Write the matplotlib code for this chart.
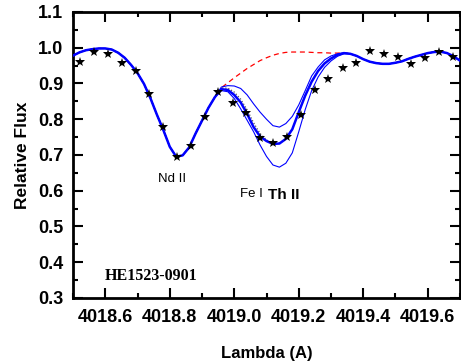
import numpy as np
import matplotlib
matplotlib.use("Agg")
import matplotlib.pyplot as plt
from matplotlib.ticker import MultipleLocator

# Observed spectrum (stars)
obs_wl = [4018.522, 4018.566, 4018.608, 4018.652, 4018.694, 4018.736, 4018.779,
          4018.823, 4018.865, 4018.908, 4018.950, 4018.995, 4019.035, 4019.079,
          4019.121, 4019.165, 4019.206, 4019.250, 4019.292, 4019.336, 4019.379,
          4019.422, 4019.463, 4019.507, 4019.549, 4019.592, 4019.635, 4019.677]
obs_flux = [0.961, 0.989, 0.982, 0.957, 0.936, 0.871, 0.778,
            0.695, 0.726, 0.805, 0.876, 0.846, 0.817, 0.748,
            0.734, 0.750, 0.811, 0.882, 0.913, 0.943, 0.957,
            0.991, 0.983, 0.975, 0.955, 0.970, 0.987, 0.975]

# Synthetic spectra: shared left part
left_wl = [4018.50, 4018.52, 4018.54, 4018.56, 4018.58, 4018.60, 4018.62, 4018.64,
           4018.66, 4018.68, 4018.70, 4018.72, 4018.74, 4018.76, 4018.78, 4018.80,
           4018.82, 4018.84, 4018.86, 4018.88, 4018.90, 4018.92, 4018.94]
left_flux = [0.978, 0.987, 0.993, 0.996, 0.998, 0.998, 0.995, 0.986,
             0.972, 0.952, 0.929, 0.899, 0.859, 0.813, 0.770, 0.723,
             0.695, 0.699, 0.721, 0.760, 0.796, 0.832, 0.862]

# Th II region
th_wl = [4018.96, 4018.98, 4019.00, 4019.02, 4019.04, 4019.06, 4019.08, 4019.10,
         4019.12, 4019.14, 4019.16, 4019.18, 4019.20, 4019.22, 4019.24, 4019.26,
         4019.28, 4019.30, 4019.32, 4019.34]
th_best = [0.884, 0.882, 0.868, 0.847, 0.815, 0.778, 0.752, 0.739,
           0.731, 0.732, 0.745, 0.772, 0.820, 0.866, 0.905, 0.935,
           0.956, 0.970, 0.980, 0.985]
th_dotted = [0.887, 0.887, 0.876, 0.856, 0.826, 0.790, 0.760, 0.742,
             0.733, 0.733, 0.745, 0.772, 0.820, 0.866, 0.905, 0.935,
             0.956, 0.970, 0.980, 0.985]
th_upper = [0.890, 0.894, 0.893, 0.886, 0.868, 0.843, 0.820, 0.800,
            0.782, 0.778, 0.788, 0.808, 0.840, 0.880, 0.921, 0.946,
            0.966, 0.977, 0.983, 0.986]
th_lower = [0.880, 0.877, 0.858, 0.829, 0.797, 0.765, 0.728, 0.696,
            0.672, 0.666, 0.677, 0.706, 0.765, 0.827, 0.880, 0.918,
            0.945, 0.963, 0.976, 0.983]
no_th = [0.888, 0.902, 0.916, 0.929, 0.942, 0.953, 0.964, 0.972,
         0.979, 0.984, 0.987, 0.988, 0.988, 0.988, 0.987, 0.986,
         0.986, 0.985, 0.985, 0.986]

# Shared right part
right_wl = [4019.36, 4019.38, 4019.40, 4019.42, 4019.44, 4019.46, 4019.48, 4019.50,
            4019.52, 4019.54, 4019.56, 4019.58, 4019.60, 4019.62, 4019.64, 4019.66,
            4019.68, 4019.70]
right_flux = [0.983, 0.977, 0.968, 0.961, 0.957, 0.955, 0.955, 0.958,
              0.962, 0.969, 0.975, 0.980, 0.985, 0.988, 0.989, 0.985,
              0.976, 0.964]

x_ticks = [4018.6, 4018.8, 4019.0, 4019.2, 4019.4, 4019.6]
y_ticks = [0.3, 0.4, 0.5, 0.6, 0.7, 0.8, 0.9, 1.0, 1.1]

plt.rcParams['font.family'] = ['Liberation Sans', 'DejaVu Sans']

fig = plt.figure(figsize=(4.61, 3.62), dpi=100)
ax = fig.add_axes([0.1584, 0.1768, 0.8394, 0.7901])

wl_all = left_wl + th_wl + right_wl
def full(mid):
    return left_flux + list(mid) + right_flux

ax.plot(wl_all, full(no_th), color='#ff0000', lw=0.9, ls=(0, (4, 3)), zorder=2)
ax.plot(wl_all, full(th_upper), color='#0000ff', lw=0.8, zorder=3)
ax.plot(wl_all, full(th_lower), color='#0000ff', lw=0.8, zorder=3)
ax.plot(wl_all, full(th_dotted), color='#555555', lw=0.9, ls=(0, (1, 1.5)), zorder=3)
ax.plot(wl_all, full(th_best), color='#0000ff', lw=1.8, zorder=4)
ax.plot(obs_wl, obs_flux, ls='none', marker='*', color='black', ms=7, mew=0, zorder=5)

ax.set_xlim(4018.5, 4019.7)
ax.set_ylim(0.3, 1.1)
ax.set_xticks(x_ticks)
ax.set_yticks(y_ticks)
ax.set_xticklabels([f"{v:.1f}" for v in x_ticks])
ax.set_yticklabels([f"{v:.1f}" for v in y_ticks])
ax.xaxis.set_minor_locator(MultipleLocator(0.1))
ax.yaxis.set_minor_locator(MultipleLocator(0.05))
ax.tick_params(which='both', direction='in', top=True, right=True, width=1.5)
ax.tick_params(which='major', length=7, labelsize=13)
ax.tick_params(axis='y', which='major', pad=7)
ax.tick_params(axis='x', which='major', pad=8)
ax.tick_params(which='minor', length=3.5)
for lab in ax.get_xticklabels() + ax.get_yticklabels():
    lab.set_fontweight('bold')
for s in ax.spines.values():
    s.set_linewidth(2)

ax.set_xlabel('Lambda (A)', fontsize=12, fontweight='bold', labelpad=14)
ax.set_ylabel('Relative Flux', fontsize=12.5, fontweight='bold', labelpad=6)

ax.text(4018.808, 0.632, 'Nd II', fontsize=9.5, ha='center', va='center')
ax.text(4019.019, 0.591, 'Fe I', fontsize=9.5, ha='left', va='center')
ax.text(4019.106, 0.588, 'Th II', fontsize=11, fontweight='bold', ha='left', va='center')
ax.text(4018.742, 0.362, 'HE1523-0901', fontsize=11.5, fontweight='bold',
        family=['Liberation Serif', 'DejaVu Serif'], ha='center', va='center')

fig.savefig('out.png', dpi=100)
